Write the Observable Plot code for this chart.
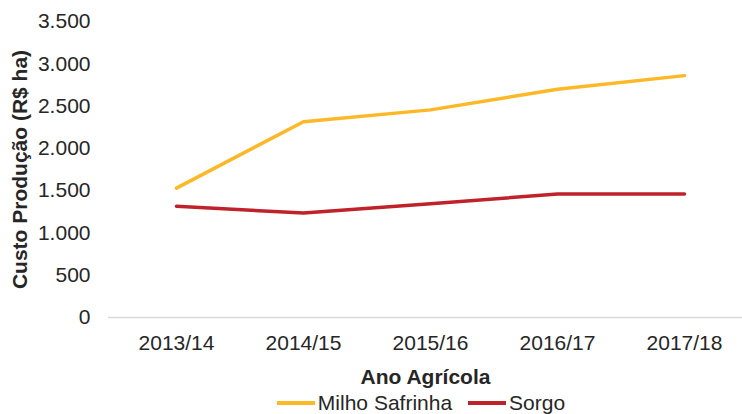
<!DOCTYPE html>
<html>
<head>
<meta charset="utf-8">
<script src="https://cdn.jsdelivr.net/npm/d3@7"></script>
<script src="https://cdn.jsdelivr.net/npm/@observablehq/plot@0.6"></script>
<style>
  body { margin: 0; background: #fff; font-family: "Liberation Sans", Arial, sans-serif; }
  #chart svg { display: block; }
  .legend { height: 22px; display: flex; justify-content: center; align-items: center; gap: 16px; font-size: 21px; line-height: 22px; color: #262626; padding-left: 100px; }
  .legend .item { display: flex; align-items: center; }
  .legend .sw { width: 38px; height: 4px; margin-right: 3px; }
</style>
</head>
<body>
<div id="chart"></div>
<div class="legend" id="legend"></div>
<script>
const anos = ["2013/14", "2014/15", "2015/16", "2016/17", "2017/18"];
const milhoSafrinha = [1530, 2315, 2455, 2700, 2860];
const sorgo = [1315, 1235, 1345, 1460, 1460];
const series = ["Milho Safrinha", "Sorgo"];
const cores = ["#FDB827", "#C0222B"];
const yTicks = [0, 500, 1000, 1500, 2000, 2500, 3000, 3500];

const data = [];
anos.forEach((a, i) => {
  data.push({ano: a, serie: series[0], valor: milhoSafrinha[i]});
  data.push({ano: a, serie: series[1], valor: sorgo[i]});
});

const fmt = d3.formatLocale({decimal: ",", thousands: ".", grouping: [3], currency: ["R$", ""]}).format(",.0f");

const chart = Plot.plot({
  width: 742,
  height: 392,
  marginLeft: 108,
  marginRight: 0,
  marginTop: 21,
  marginBottom: 75,
  style: {fontFamily: "'Liberation Sans', Arial, sans-serif", fontSize: "21px", color: "#262626", background: "#fff"},
  x: {type: "point", domain: anos, range: [112, 748], padding: 0.5},
  y: {domain: [0, 3500]},
  color: {domain: series, range: cores},
  marks: [
    Plot.ruleY([0], {stroke: "#d9d9d9", strokeWidth: 1.5}),
    Plot.axisY({ticks: yTicks, tickFormat: fmt, tickSize: 0, tickPadding: 18, fontSize: 21,
      label: "Custo Produção (R$ ha)", labelAnchor: "center", labelArrow: "none", labelOffset: 96}),
    Plot.axisX({tickSize: 0, tickPadding: 18, fontSize: 21, label: "Ano Agrícola", labelAnchor: "center", labelArrow: "none", labelOffset: 66}),
    Plot.lineY(data, {x: "ano", y: "valor", stroke: "serie", z: "serie", strokeWidth: 3.5, strokeLinejoin: "round"})
  ]
});
chart.querySelectorAll('g[aria-label$="axis label"] text, g[aria-label$="axis label"]').forEach(el => {
  el.setAttribute("font-weight", "bold");
});
document.getElementById("chart").appendChild(chart);

const leg = document.getElementById("legend");
series.forEach((s, i) => {
  const it = document.createElement("div");
  it.className = "item";
  it.innerHTML = `<span class="sw" style="background:${cores[i]}"></span><span>${s}</span>`;
  leg.appendChild(it);
});
</script>
</body>
</html>
